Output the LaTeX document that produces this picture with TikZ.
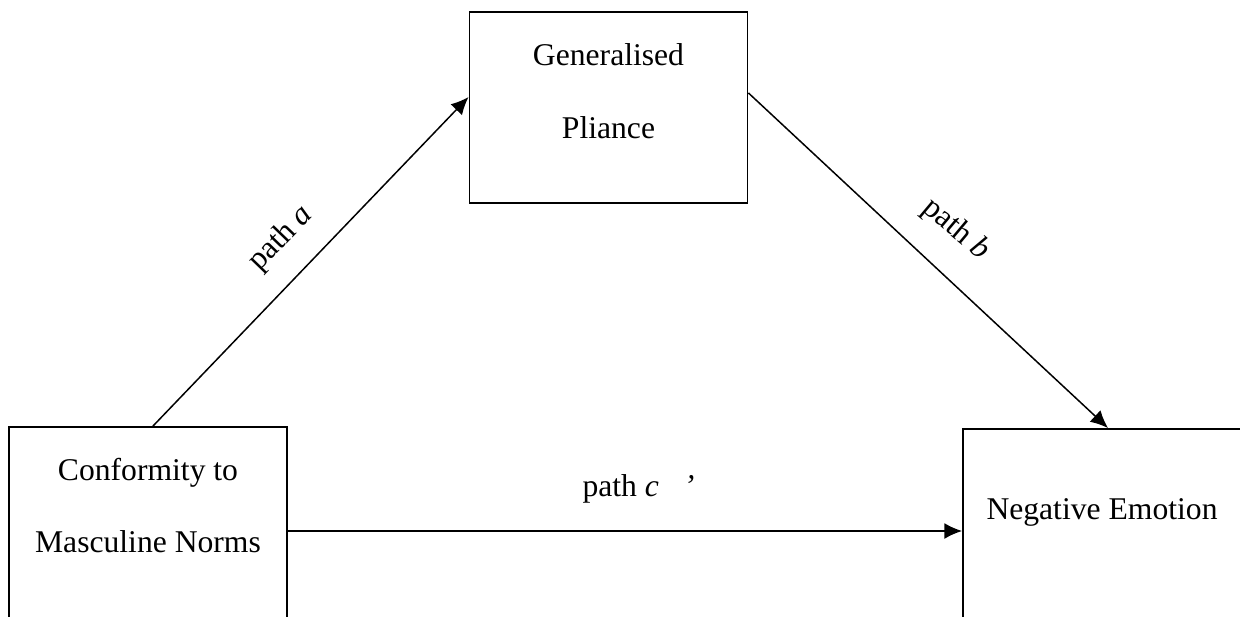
\documentclass[tikz,border=0pt]{standalone}
\usepackage{fontspec}
\setmainfont{Liberation Serif}
\usetikzlibrary{arrows.meta}

\tikzset{
  varbox/.style={draw, line width=1.1pt, minimum width=5.56cm, minimum height=3.82cm, inner sep=0pt},
  vartext/.style={align=center, font=\fontsize{18}{41.5}\selectfont, inner sep=0pt},
  pathlbl/.style={font=\fontsize{18}{22}\selectfont, inner sep=0pt},
  effect/.style={line width=0.85pt, -{Latex[length=10pt,width=9pt]}}
}

\begin{document}
\begin{tikzpicture}
            \useasboundingbox (0,0) rectangle (24.8,12.32);

            % the three variables
            \node[varbox] (cmn) at (2.96,1.87) {};
            \node[varbox] (gp) at (12.17,10.17) {};
            \node[varbox] (ne) at (22.04,1.83) {};

            \node[vartext] (cmntext) at (2.96,2.21) {Conformity to\\Masculine Norms};
            \node[vartext] (gptext) at (12.17,10.49) {Generalised\\Pliance};
            \node[vartext] (netext) at (22.04,2.07) {Negative Emotion};

            % paths
            \draw[effect] ([xshift=0.1cm]cmn.north) -- ([yshift=0.21cm]gp.west);
            \draw[effect] ([yshift=0.29cm]gp.east) -- ([xshift=0.12cm]ne.north);
            \draw[effect] ([yshift=-0.17cm]cmn.east) -- ([yshift=-0.17cm]cmn.east -| ne.west);

            \node[pathlbl, rotate=46] (patha) at (5.62,7.55) {path \textit{a}};
            \node[pathlbl, rotate=-40] (pathb) at (19.12,7.72) {path \textit{b}};
            \node[pathlbl] (pathc) at (12.77,2.54) {path \textit{c}\hspace{0.5cm}\textit{’}};

        \end{tikzpicture}
\end{document}
